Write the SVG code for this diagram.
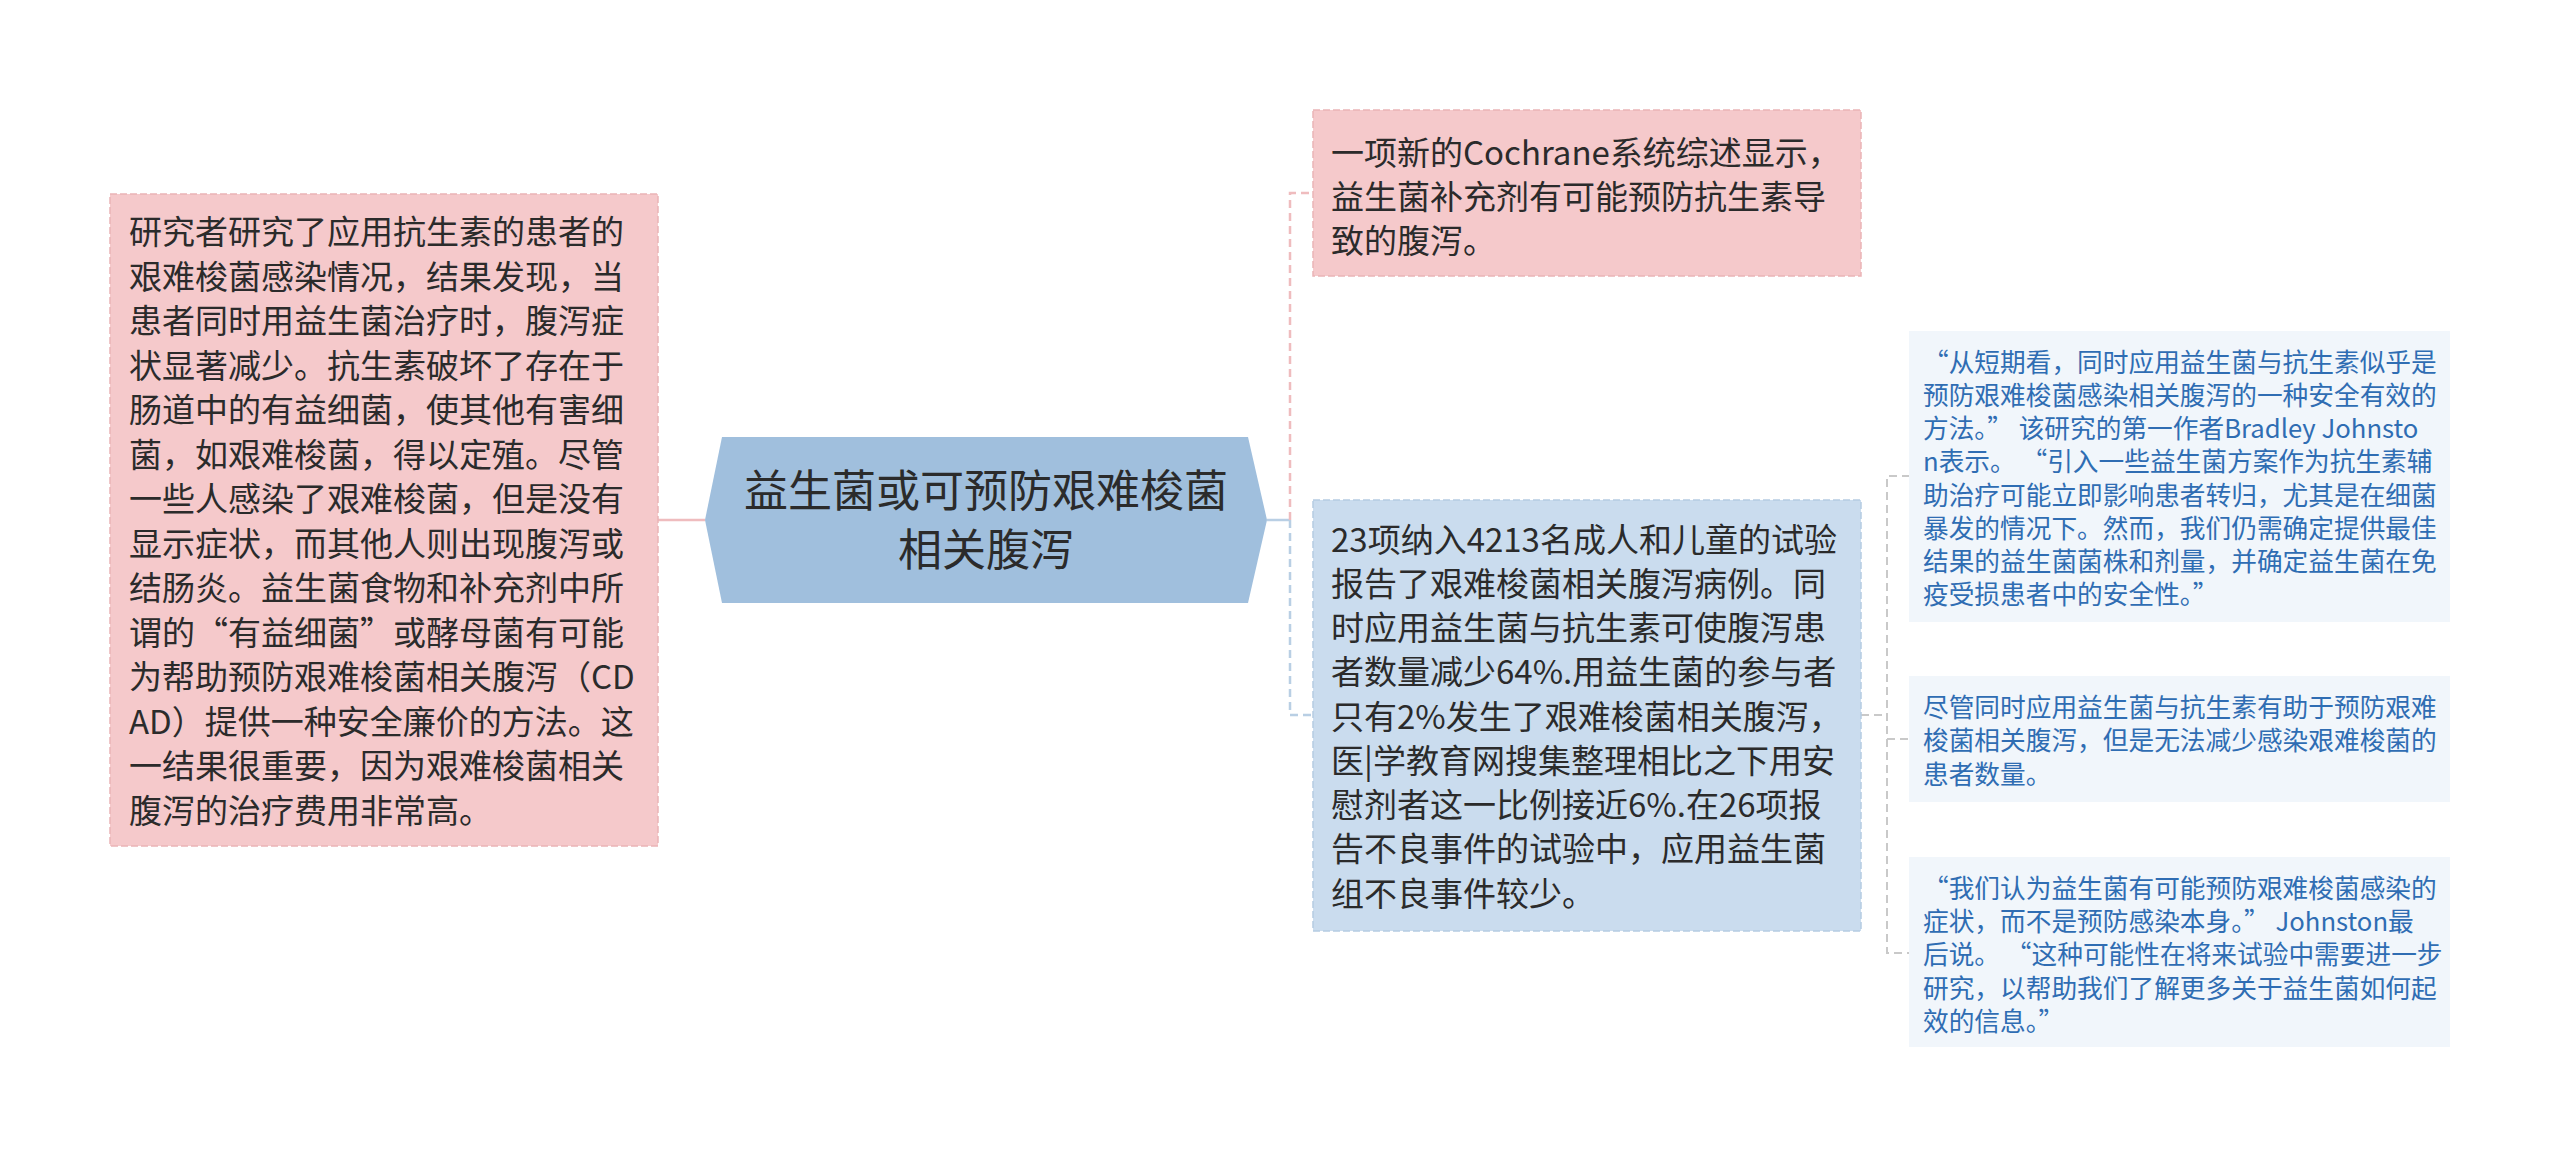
<svg xmlns="http://www.w3.org/2000/svg" width="2560" height="1159" viewBox="0 0 2560 1159">
<style>
.t{font-family:"Noto Sans CJK SC","Noto Sans",sans-serif;}
.big{font-size:33px;fill:#2b2b2b;}
.sm{font-size:25.7px;fill:#2f6db3;}
.pinkbox{fill:#f5c9cb;stroke:#eab4b7;stroke-width:1.5;stroke-dasharray:7 3;}
.bluebox{fill:#cadcee;stroke:#b5cbe2;stroke-width:1.5;stroke-dasharray:7 3;}
.lightbox{fill:#f1f6fb;}
.cp{stroke:#efbcbe;stroke-width:2.5;fill:none;}
.cb{stroke:#b9cfe4;stroke-width:2.5;fill:none;}
.cg{stroke:#c9c9c9;stroke-width:2;fill:none;}
.d{stroke-dasharray:8 5;}
</style>
<rect width="2560" height="1159" fill="#ffffff"/>
<g id="connectors">
<line class="cp" x1="658" y1="520" x2="705" y2="520"/>
<line class="cb" x1="1267" y1="520" x2="1290" y2="520"/>
<path class="cp d" d="M1290,520 V193 H1313"/>
<path class="cb d" d="M1290,520 V715 H1313"/>
<line class="cg d" x1="1861" y1="715" x2="1887" y2="715"/>
<path class="cg d" d="M1910,476 H1887 V953 H1910"/>
<line class="cg d" x1="1887" y1="739" x2="1910" y2="739"/>
</g>
<g id="root">
<polygon points="705,520 722,437 1248,437 1267,520 1248,603 722,603" fill="#a0bfdd"/>
<text class="t" font-size="44" fill="#2b2b2b" text-anchor="middle"><tspan x="986" y="507">益生菌或可预防艰难梭菌</tspan><tspan x="986" y="566">相关腹泻</tspan></text>
</g>
<g id="left-note">
<rect class="pinkbox" x="110" y="194" width="548" height="652"/>
<text class="t big"><tspan x="129" y="244">研究者研究了应用抗生素的患者的</tspan><tspan x="129" y="288.5">艰难梭菌感染情况，结果发现，当</tspan><tspan x="129" y="333">患者同时用益生菌治疗时，腹泻症</tspan><tspan x="129" y="377.5">状显著减少。抗生素破坏了存在于</tspan><tspan x="129" y="422">肠道中的有益细菌，使其他有害细</tspan><tspan x="129" y="466.5">菌，如艰难梭菌，得以定殖。尽管</tspan><tspan x="129" y="511">一些人感染了艰难梭菌，但是没有</tspan><tspan x="129" y="555.5">显示症状，而其他人则出现腹泻或</tspan><tspan x="129" y="600">结肠炎。益生菌食物和补充剂中所</tspan><tspan x="129" y="644.5">谓的“有益细菌”或酵母菌有可能</tspan><tspan x="129" y="689">为帮助预防艰难梭菌相关腹泻（CD</tspan><tspan x="129" y="733.5">AD）提供一种安全廉价的方法。这</tspan><tspan x="129" y="778">一结果很重要，因为艰难梭菌相关</tspan><tspan x="129" y="822.5">腹泻的治疗费用非常高。</tspan></text>
</g>
<g id="cochrane">
<rect class="pinkbox" x="1313" y="110" width="548" height="166"/>
<text class="t big"><tspan x="1331" y="164.5">一项新的Cochrane系统综述显示，</tspan><tspan x="1331" y="208.5">益生菌补充剂有可能预防抗生素导</tspan><tspan x="1331" y="252.5">致的腹泻。</tspan></text>
</g>
<g id="trials">
<rect class="bluebox" x="1313" y="500" width="548" height="431"/>
<text class="t big"><tspan x="1331" y="551.5">23项纳入4213名成人和儿童的试验</tspan><tspan x="1331" y="595.75">报告了艰难梭菌相关腹泻病例。同</tspan><tspan x="1331" y="640">时应用益生菌与抗生素可使腹泻患</tspan><tspan x="1331" y="684.25">者数量减少64%.用益生菌的参与者</tspan><tspan x="1331" y="728.5">只有2%发生了艰难梭菌相关腹泻，</tspan><tspan x="1331" y="772.75">医|学教育网搜集整理相比之下用安</tspan><tspan x="1331" y="817">慰剂者这一比例接近6%.在26项报</tspan><tspan x="1331" y="861.25">告不良事件的试验中，应用益生菌</tspan><tspan x="1331" y="905.5">组不良事件较少。</tspan></text>
</g>
<g id="quote-short-term">
<rect class="lightbox" x="1909" y="331" width="541" height="291"/>
<text class="t sm"><tspan x="1923" y="372">“从短期看，同时应用益生菌与抗生素似乎是</tspan><tspan x="1923" y="405">预防艰难梭菌感染相关腹泻的一种安全有效的</tspan><tspan x="1923" y="438">方法。” 该研究的第一作者Bradley Johnsto</tspan><tspan x="1923" y="471">n表示。 “引入一些益生菌方案作为抗生素辅</tspan><tspan x="1923" y="505">助治疗可能立即影响患者转归，尤其是在细菌</tspan><tspan x="1923" y="538">暴发的情况下。然而，我们仍需确定提供最佳</tspan><tspan x="1923" y="571">结果的益生菌菌株和剂量，并确定益生菌在免</tspan><tspan x="1923" y="604">疫受损患者中的安全性。”</tspan></text>
</g>
<g id="note-infection">
<rect class="lightbox" x="1909" y="676" width="541" height="126"/>
<text class="t sm"><tspan x="1923" y="717">尽管同时应用益生菌与抗生素有助于预防艰难</tspan><tspan x="1923" y="750">梭菌相关腹泻，但是无法减少感染艰难梭菌的</tspan><tspan x="1923" y="784">患者数量。</tspan></text>
</g>
<g id="quote-johnston">
<rect class="lightbox" x="1909" y="857" width="541" height="190"/>
<text class="t sm"><tspan x="1923" y="898">“我们认为益生菌有可能预防艰难梭菌感染的</tspan><tspan x="1923" y="931">症状，而不是预防感染本身。” Johnston最</tspan><tspan x="1923" y="964">后说。 “这种可能性在将来试验中需要进一步</tspan><tspan x="1923" y="998">研究，以帮助我们了解更多关于益生菌如何起</tspan><tspan x="1923" y="1031">效的信息。”</tspan></text>
</g>
</svg>
